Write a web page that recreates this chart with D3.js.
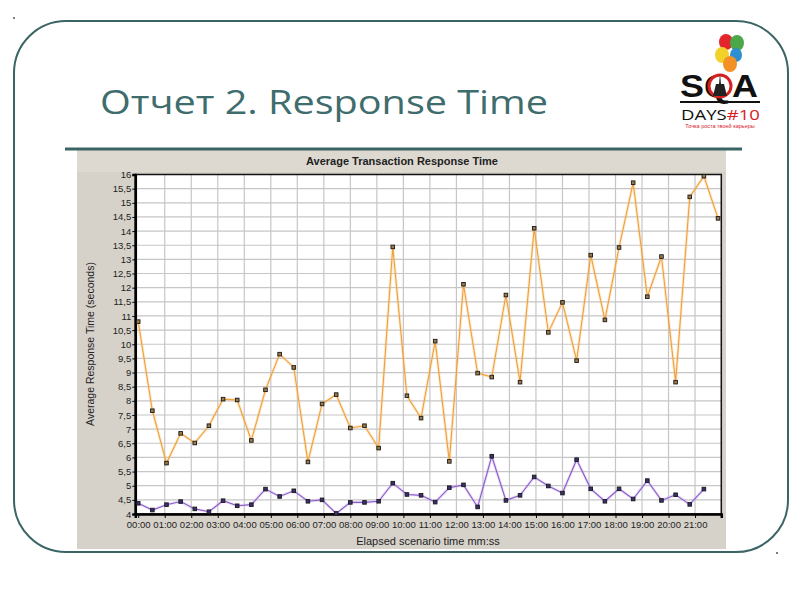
<!doctype html>
<meta charset="utf-8">
<title>Отчет 2. Response Time</title>
<style>
  body { margin: 0; background: #fff; }
  svg { display: block; }
</style>
<body>
<script src="https://cdn.jsdelivr.net/npm/d3@7"></script>
<script>

    // values (seconds), one sample every 32 s
    var sampleSec = 32;
    var seriesA = [10.80, 7.65, 5.80, 6.85, 6.51, 7.12, 8.06, 8.03, 6.60, 8.39,
                   9.65, 9.18, 5.84, 7.89, 8.22, 7.04, 7.12, 6.33, 13.44, 8.18,
                   7.39, 10.11, 5.86, 12.12, 8.98, 8.84, 11.74, 8.66, 14.10, 10.42,
                   11.48, 9.42, 13.15, 10.86, 13.42, 15.71, 11.68, 13.10, 8.66, 15.21,
                   15.94, 14.45];
    var seriesB = [4.38, 4.14, 4.33, 4.44, 4.18, 4.08, 4.47, 4.29, 4.33, 4.88,
                   4.62, 4.82, 4.45, 4.50, 4.02, 4.41, 4.41, 4.45, 5.09, 4.69,
                   4.66, 4.42, 4.93, 5.03, 4.25, 6.04, 4.48, 4.66, 5.31, 4.99,
                   4.74, 5.92, 4.89, 4.45, 4.89, 4.53, 5.18, 4.48, 4.68, 4.34,
                   4.88];
    var xTicks = [0, 1, 2, 3, 4, 5, 6, 7, 8, 9, 10, 11, 12, 13, 14, 15, 16, 17, 18, 19, 20, 21];
    var yTicks = [4, 4.5, 5, 5.5, 6, 6.5, 7, 7.5, 8, 8.5, 9, 9.5, 10, 10.5, 11, 11.5,
                  12, 12.5, 13, 13.5, 14, 14.5, 15, 15.5, 16];

    var svg = d3.select("body").append("svg")
        .attr("width", 800)
        .attr("height", 600);

    var teal = "#3b6464";

    // slide frame
    svg.append("rect")
        .attr("x", 14)
        .attr("y", 21)
        .attr("width", 774)
        .attr("height", 531)
        .attr("rx", 52)
        .attr("ry", 52)
        .attr("fill", "none")
        .attr("stroke", teal)
        .attr("stroke-width", 2);

    svg.append("circle").attr("cx", 14).attr("cy", 18).attr("r", 1).attr("fill", "#555");
    svg.append("circle").attr("cx", 777).attr("cy", 553).attr("r", 1).attr("fill", "#555");

    svg.append("text")
        .attr("x", 100)
        .attr("y", 114)
        .text("Отчет 2. Response Time")
        .attr("font-family", "'Open Sans', 'DejaVu Sans', sans-serif")
        .attr("font-size", "33px")
        .attr("fill", "#3f6d6d")
        .attr("textLength", 448)
        .attr("lengthAdjust", "spacingAndGlyphs");

    // logo
    var logo = svg.append("g");
    var balloons = [
        {x: 726, y: 42, r: 7, c: "#e2262c"},
        {x: 737, y: 43, r: 7, c: "#4aa84a"},
        {x: 722, y: 55, r: 7, c: "#f2d12a"},
        {x: 736, y: 55, r: 6, c: "#2d8fd0"},
        {x: 730, y: 64, r: 7, c: "#f39224"}
    ];
    balloons.forEach(function(b) {
        logo.append("ellipse")
            .attr("cx", b.x).attr("cy", b.y)
            .attr("rx", b.r).attr("ry", b.r * 1.15)
            .attr("fill", b.c);
    });
    logo.append("text")
        .attr("x", 719)
        .attr("y", 97)
        .attr("text-anchor", "middle")
        .text("SQA")
        .attr("font-family", "'Liberation Sans', Arial, sans-serif")
        .attr("font-size", "32px")
        .style("font-weight", "bold")
        .attr("fill", "#111")
        .attr("textLength", 78)
        .attr("lengthAdjust", "spacingAndGlyphs");
    logo.append("circle")
        .attr("cx", 720).attr("cy", 86).attr("r", 11)
        .attr("fill", "#fff").attr("stroke", "#d7201f").attr("stroke-width", 3);
    logo.append("path")
        .attr("d", "M713,96 L716,84 L719,84 L720,74 L721,84 L724,84 L727,96 Z")
        .attr("fill", "#222");
    logo.append("line")
        .attr("x1", 680).attr("y1", 102).attr("x2", 760).attr("y2", 102)
        .attr("stroke", "#111").attr("stroke-width", 2);
    var days = logo.append("text")
        .attr("x", 681)
        .attr("y", 120)
        .attr("font-family", "'Open Sans', sans-serif")
        .attr("font-size", "15px")
        .attr("fill", "#111")
        .attr("textLength", 79)
        .attr("lengthAdjust", "spacingAndGlyphs");
    days.append("tspan").text("DAYS");
    days.append("tspan").text("#10").attr("fill", "#d7201f");
    logo.append("text")
        .attr("x", 720)
        .attr("y", 128)
        .attr("text-anchor", "middle")
        .text("Точка роста твоей карьеры")
        .attr("font-family", "'Liberation Sans', sans-serif")
        .attr("font-size", "5.5px")
        .attr("fill", "#d7201f");

    // chart picture
    svg.append("rect")
        .attr("x", 77)
        .attr("y", 150)
        .attr("width", 649)
        .attr("height", 399)
        .attr("fill", "#d6d2ca");
    svg.append("rect")
        .attr("x", 77)
        .attr("y", 150)
        .attr("width", 649)
        .attr("height", 22)
        .attr("fill", "#ddd9d1");

    svg.append("line")
        .attr("x1", 65).attr("y1", 149).attr("x2", 742).attr("y2", 149)
        .attr("stroke", teal).attr("stroke-width", 3);

    svg.append("text")
        .attr("x", 402)
        .attr("y", 165)
        .attr("text-anchor", "middle")
        .text("Average Transaction Response Time")
        .attr("font-family", "'Liberation Sans', Arial, sans-serif")
        .attr("font-size", "11px")
        .style("font-weight", "bold")
        .attr("fill", "#222");

    var plotLeft = 135.3, plotRight = 721.3, plotTop = 174.5, plotBottom = 514;

    var x = d3.scaleLinear().domain([-0.11, 21.99]).range([plotLeft, plotRight]);
    var y = d3.scaleLinear().domain([4, 16]).range([plotBottom, plotTop]);

    svg.append("rect")
        .attr("x", plotLeft).attr("y", plotTop)
        .attr("width", plotRight - plotLeft).attr("height", plotBottom - plotTop)
        .attr("fill", "#fff");

    // grid
    svg.append("g").selectAll("line").data(yTicks.slice(1, -1)).enter().append("line")
        .attr("x1", plotLeft).attr("x2", plotRight)
        .attr("y1", function(d) { return y(d); })
        .attr("y2", function(d) { return y(d); })
        .attr("stroke", "#c6c6c6").attr("stroke-width", 1.2);
    svg.append("g").selectAll("line").data(xTicks.slice(1)).enter().append("line")
        .attr("y1", plotTop).attr("y2", plotBottom)
        .attr("x1", function(d) { return x(d); })
        .attr("x2", function(d) { return x(d); })
        .attr("stroke", "#c6c6c6").attr("stroke-width", 1.2);

    // border
    svg.append("rect")
        .attr("x", plotLeft).attr("y", plotTop)
        .attr("width", plotRight - plotLeft).attr("height", plotBottom - plotTop)
        .attr("fill", "none").attr("stroke", "#111").attr("stroke-width", 1.5);

    var yAxis = d3.axisLeft(y)
        .tickValues(yTicks)
        .tickSize(3)
        .tickFormat(function(d) { return String(d).replace(".", ","); });
    var gy = svg.append("g").attr("transform", "translate(" + plotLeft + ",0)").call(yAxis);

    var xAxis = d3.axisBottom(x)
        .tickValues(xTicks)
        .tickSize(4)
        .tickFormat(function(d) { return (d < 10 ? "0" : "") + d + ":00"; });
    var gx = svg.append("g").attr("transform", "translate(0," + plotBottom + ")").call(xAxis);

    [gy, gx].forEach(function(g) {
        g.select(".domain").attr("stroke", "#000").attr("stroke-width", 2.5);
        g.selectAll(".tick line").attr("stroke", "#000");
        g.selectAll(".tick text")
            .attr("font-family", "'Liberation Sans', Arial, sans-serif")
            .attr("font-size", "9.5px")
            .attr("fill", "#222");
    });
    gy.selectAll(".tick text").attr("x", -4);
    gx.selectAll(".tick text").attr("y", 7);

    svg.append("text")
        .attr("x", 428)
        .attr("y", 545)
        .attr("text-anchor", "middle")
        .text("Elapsed scenario time mm:ss")
        .attr("font-family", "'Liberation Sans', Arial, sans-serif")
        .attr("font-size", "11px")
        .attr("fill", "#222");

    svg.append("text")
        .attr("transform", "translate(94,344) rotate(-90)")
        .attr("text-anchor", "middle")
        .text("Average Response Time (seconds)")
        .attr("font-family", "'Liberation Sans', Arial, sans-serif")
        .attr("font-size", "10.5px")
        .attr("fill", "#222");

    function drawSeries(values, glow, lineColor, markFill) {
        var line = d3.line()
            .x(function(d, i) { return x(i * sampleSec / 60); })
            .y(function(d) { return y(d); });
        svg.append("path")
            .datum(values)
            .attr("d", line)
            .attr("fill", "none")
            .attr("stroke", glow)
            .attr("stroke-width", 3)
            .attr("stroke-opacity", 0.35);
        svg.append("path")
            .datum(values)
            .attr("d", line)
            .attr("fill", "none")
            .attr("stroke", lineColor)
            .attr("stroke-width", 1.1);
        svg.append("g").selectAll("rect").data(values).enter().append("rect")
            .attr("x", function(d, i) { return x(i * sampleSec / 60) - 1.8; })
            .attr("y", function(d) { return y(d) - 1.8; })
            .attr("width", 3.6)
            .attr("height", 3.6)
            .attr("fill", markFill)
            .attr("stroke", "#1a1a1a")
            .attr("stroke-width", 0.9);
    }

    drawSeries(seriesA, "#f8c478", "#eea03a", "#9a7a48");
    drawSeries(seriesB, "#c8a8ee", "#8a5cc8", "#3a3070");

</script>
</body>
